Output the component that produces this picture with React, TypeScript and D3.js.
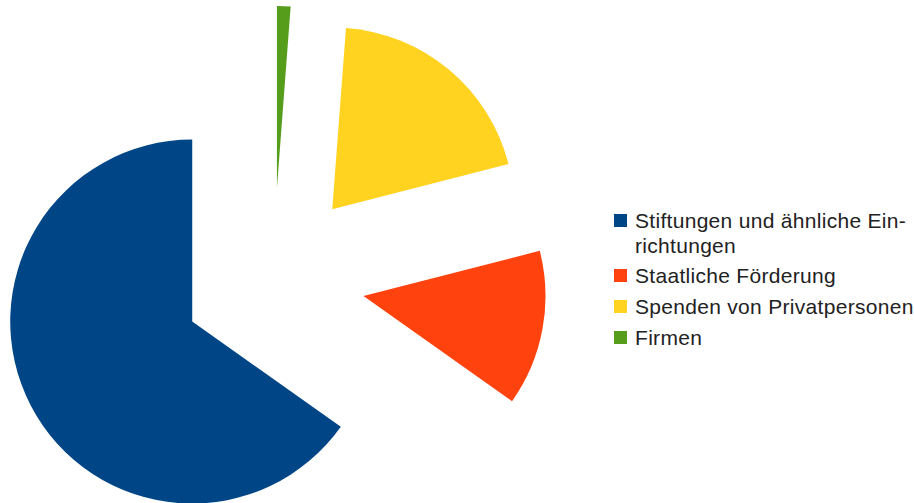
import React from "react";
import * as d3 from "d3";

const categories = [
  "Stiftungen und ähnliche Einrichtungen",
  "Staatliche Förderung",
  "Spenden von Privatpersonen",
  "Firmen",
];
const legendLines = [
  ["Stiftungen und ähnliche Ein-", "richtungen"],
  ["Staatliche Förderung"],
  ["Spenden von Privatpersonen"],
  ["Firmen"],
];
const values = [65.2, 13.8, 19.8, 1.2];
const colors = ["#004586", "#ff420e", "#ffd320", "#579d1c"];

const W = 914;
const H = 503;
const cx = 273.5;
const cy = 279.5;
const R = 182;
const explode = 91.5;

export default function App() {
  const pie = d3
    .pie<number>()
    .sort(null)
    .value((d) => d)
    .startAngle(0)
    .endAngle(-2 * Math.PI);
  const arcs = pie(values);
  const arcGen = d3.arc<d3.PieArcDatum<number>>().innerRadius(0).outerRadius(R);

  const legendX = 614;
  const textX = 635;
  const baselines = [228, 283, 314, 345];
  const lineH = 25;

  return (
    <svg
      width={W}
      height={H}
      style={{ position: "absolute", left: 0, top: 0, background: "#fff" }}
      fontFamily="'Liberation Sans', Arial, sans-serif"
    >
      <g transform={`translate(${cx},${cy})`}>
        {arcs.map((a, i) => {
          const mid = (a.startAngle + a.endAngle) / 2;
          const dx = Math.sin(mid) * explode;
          const dy = -Math.cos(mid) * explode;
          return (
            <path
              key={categories[i]}
              d={arcGen(a) || ""}
              fill={colors[i]}
              transform={`translate(${dx},${dy})`}
            />
          );
        })}
      </g>
      <g>
        {legendLines.map((lines, i) => (
          <g key={categories[i]}>
            <rect
              x={legendX}
              y={baselines[i] - 14}
              width={13}
              height={13}
              fill={colors[i]}
            />
            {lines.map((ln, j) => (
              <text
                key={j}
                x={textX}
                y={baselines[i] + j * lineH}
                fontSize={21}
                fill="#222"
                letterSpacing={0.3}
              >
                {ln}
              </text>
            ))}
          </g>
        ))}
      </g>
    </svg>
  );
}
